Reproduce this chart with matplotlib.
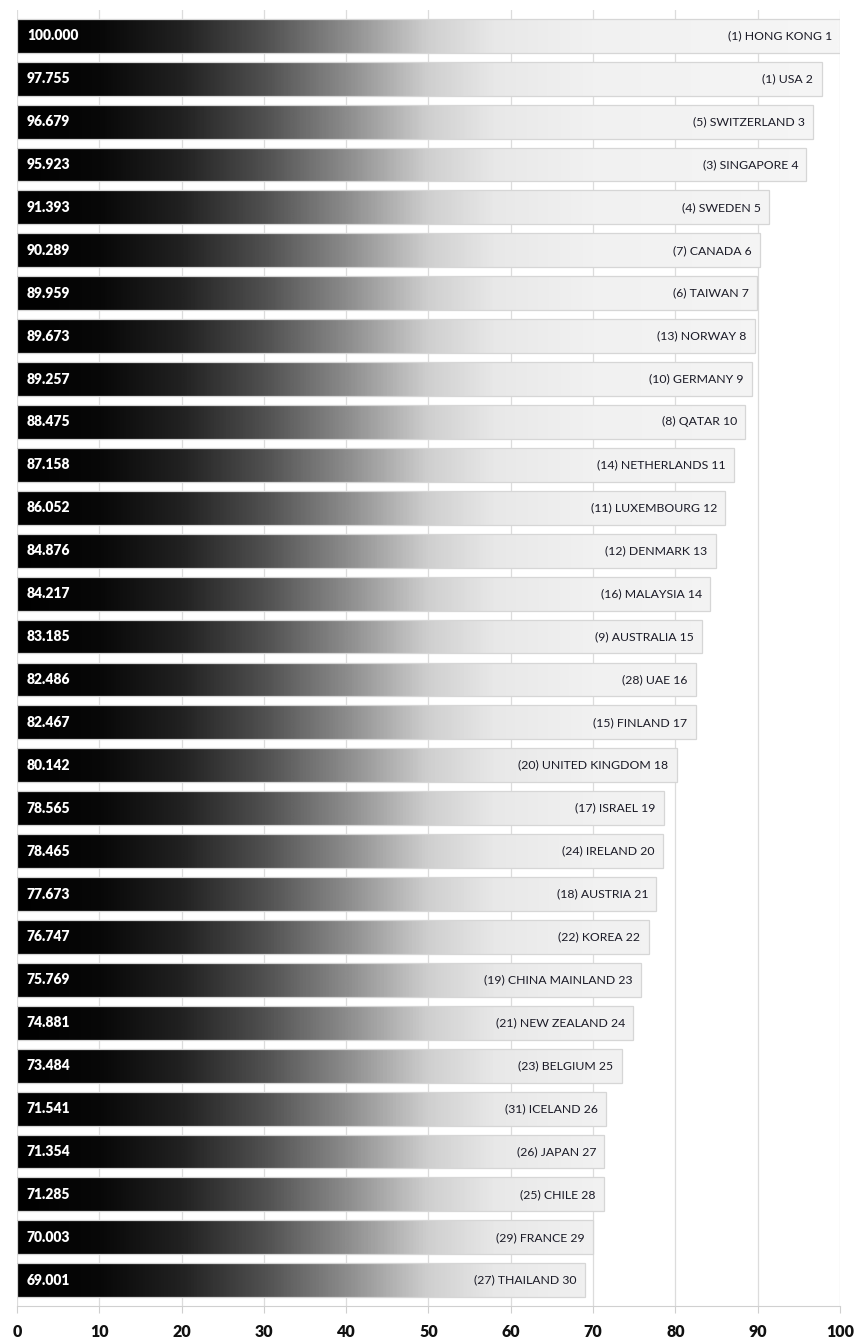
import matplotlib
matplotlib.use("Agg")
import matplotlib.pyplot as plt
import numpy as np
from matplotlib.colors import LinearSegmentedColormap
from matplotlib.patches import Rectangle

countries = ["HONG KONG", "USA", "SWITZERLAND", "SINGAPORE", "SWEDEN", "CANADA",
             "TAIWAN", "NORWAY", "GERMANY", "QATAR", "NETHERLANDS", "LUXEMBOURG",
             "DENMARK", "MALAYSIA", "AUSTRALIA", "UAE", "FINLAND", "UNITED KINGDOM",
             "ISRAEL", "IRELAND", "AUSTRIA", "KOREA", "CHINA MAINLAND", "NEW ZEALAND",
             "BELGIUM", "ICELAND", "JAPAN", "CHILE", "FRANCE", "THAILAND"]
prev_rank = [1, 1, 5, 3, 4, 7, 6, 13, 10, 8, 14, 11, 12, 16, 9, 28, 15, 20,
             17, 24, 18, 22, 19, 21, 23, 31, 26, 25, 29, 27]
rank = list(range(1, 31))
scores = [100.000, 97.755, 96.679, 95.923, 91.393, 90.289, 89.959, 89.673,
          89.257, 88.475, 87.158, 86.052, 84.876, 84.217, 83.185, 82.486,
          82.467, 80.142, 78.565, 78.465, 77.673, 76.747, 75.769, 74.881,
          73.484, 71.541, 71.354, 71.285, 70.003, 69.001]
xticks = [0, 10, 20, 30, 40, 50, 60, 70, 80, 90, 100]

W, H = 859, 1341
fig = plt.figure(figsize=(W / 100, H / 100), dpi=100)
ax = fig.add_axes([17 / W, 35 / H, (840 - 17) / W, (1306 - 10) / H])

cmap = LinearSegmentedColormap.from_list(
    "grad",
    [(0.00, "#000000"), (0.10, "#080808"), (0.20, "#222222"), (0.30, "#505050"),
     (0.40, "#8c8c8c"), (0.50, "#cfcfcf"), (0.58, "#e8e8e8"), (0.70, "#f1f1f1"),
     (1.00, "#f6f6f6")])

n = len(scores)
ys = np.arange(n)
bh = 0.79
for i, (v, y) in enumerate(zip(scores, ys)):
    xs = np.linspace(0, v, 600)
    img = cmap(xs / 100.0)[np.newaxis, :, :]
    im = ax.imshow(img, extent=(0, v, y + bh / 2, y - bh / 2), aspect="auto",
                   interpolation="bilinear", zorder=2)
    clip = Rectangle((0, y - bh / 2), v, bh, transform=ax.transData,
                     facecolor="none", edgecolor="none")
    ax.add_patch(clip)
    im.set_clip_path(clip)
    ax.add_patch(Rectangle((0, y - bh / 2), v, bh, fill=False,
                           edgecolor="#d6d6d6", linewidth=0.9, zorder=3))
    ax.text(1.2, y, f"{v:.3f}", color="white", fontweight="heavy",
            fontsize=10, family="Lato", va="center", ha="left", zorder=4)
    ax.text(v - 1.0, y, f"({prev_rank[i]}) {countries[i]} {rank[i]}",
            color="#1a1a26", fontsize=8.8, family="Lato",
            va="center", ha="right", zorder=4)

ax.set_xlim(0, 100)
ax.set_ylim(n - 1 + 0.6, -0.6)
ax.set_xticks(xticks)
ax.set_xticklabels([str(t) for t in xticks], fontweight="heavy", fontsize=11.5,
                   family="Lato", color="#111111")
ax.set_yticks([])
ax.grid(axis="x", color="#dcdcdc", linewidth=0.9, zorder=0)
ax.set_axisbelow(True)
for s in ["top", "right", "left"]:
    ax.spines[s].set_visible(False)
ax.spines["bottom"].set_color("#d0d0d0")
ax.tick_params(axis="x", length=5, color="#cfcfcf", pad=8)

fig.savefig("out.png", dpi=100)
